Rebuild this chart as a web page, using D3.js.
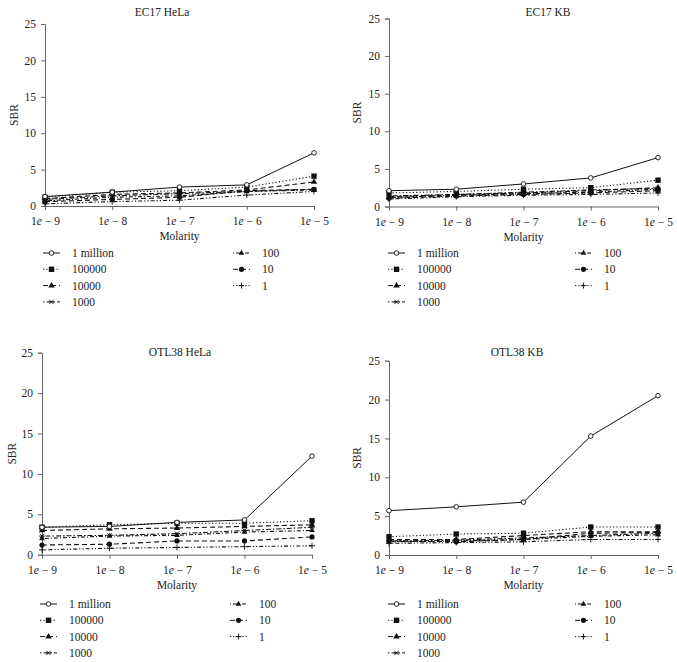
<!DOCTYPE html>
<html><head><meta charset="utf-8">
<script src="https://cdn.jsdelivr.net/npm/d3@7"></script>
<style>body{margin:0;background:#fff}svg{display:block}svg text{font-family:"Liberation Serif","Times New Roman",Tinos,"Noto Serif","DejaVu Serif",serif !important;fill:#222}</style>
</head><body>
<svg id="c" width="677" height="662" style="font-family:'Liberation Serif','Times New Roman','DejaVu Serif',serif"></svg>
<script>
const categories = ["1e-9","1e-8","1e-7","1e-6","1e-5"];
const tickExps = ["9","8","7","6","5"];
const seriesNames = ["1 million","100000","10000","1000","100","10","1"];
const yTicks = [0,5,10,15,20,25];
const titles = ["EC17 HeLa","EC17 KB","OTL38 HeLa","OTL38 KB"];

const ec17Hela = [
  [1.3,1.9,2.6,2.9,7.3],
  [1.2,1.9,2.1,2.6,4.1],
  [1.0,1.6,1.8,2.2,3.3],
  [0.9,1.4,1.7,2.0,2.3],
  [0.7,1.2,1.4,2.0,2.2],
  [0.6,0.9,1.2,2.1,2.3],
  [0.3,0.6,0.8,1.5,2.0]
];
const ec17Kb = [
  [2.1,2.3,3.0,3.8,6.5],
  [1.8,2.0,2.3,2.5,3.5],
  [1.3,1.6,1.8,2.1,2.5],
  [1.4,1.6,1.9,2.2,2.4],
  [1.2,1.5,1.7,1.9,2.3],
  [1.1,1.4,1.6,1.8,2.1],
  [1.0,1.3,1.5,1.6,1.8]
];
const otl38Hela = [
  [3.4,3.5,4.0,4.3,12.2],
  [3.4,3.7,3.9,3.9,4.2],
  [3.0,3.2,3.3,3.5,3.7],
  [2.3,2.4,2.6,3.0,3.4],
  [2.0,2.3,2.4,2.8,3.0],
  [1.2,1.3,1.7,1.7,2.2],
  [0.6,0.8,0.9,1.0,1.1]
];
const otl38Kb = [
  [5.7,6.2,6.8,15.3,20.5],
  [2.35,2.7,2.8,3.6,3.6],
  [2.0,2.0,2.5,3.0,3.0],
  [1.8,1.9,2.2,2.5,2.8],
  [1.7,1.8,2.0,2.4,2.6],
  [1.8,1.7,2.0,2.8,2.9],
  [1.5,1.6,1.7,2.0,2.0]
];
const panelValues = [ec17Hela, ec17Kb, otl38Hela, otl38Kb];

// layout
const layouts = [
  {x0:45,x1:314,y0:206,y1:24,titleX:162,titleY:16,labX:14,legY:253,legL:43,legR:233},
  {x0:389,x1:658,y0:206.5,y1:18.5,titleX:548,titleY:16,labX:357,legY:253,legL:388,legR:575},
  {x0:42,x1:312,y0:554.7,y1:352.7,titleX:180,titleY:356,labX:12,legY:604,legL:40,legR:230},
  {x0:389,x1:658,y0:555,y1:360.7,titleX:517,titleY:356,labX:357,legY:604,legL:388,legR:575}
];
const dashes = [null,"1.2,2.2","5,3","1.5,2,5,2","1,2,4,2","5,3","1.2,2,1.2,2,4,2"];
const lineCol = "#111", axisCol = "#666";
const FONT = "'Liberation Serif','Times New Roman','DejaVu Serif',serif";

const svg = d3.select("#c");

function marker(g, i, x, y){
  const c = lineCol;
  if(i===0) g.append("circle").attr("cx",x).attr("cy",y).attr("r",2.3).attr("fill","#fff").attr("stroke",c).attr("stroke-width",0.9);
  else if(i===1) g.append("rect").attr("x",x-2.7).attr("y",y-2.7).attr("width",5.4).attr("height",5.4).attr("fill",c);
  else if(i===2) g.append("path").attr("d",d3.symbol(d3.symbolTriangle,18)()).attr("transform",`translate(${x},${y})`).attr("fill",c);
  else if(i===3) g.append("path").attr("d",`M${x-2.2},${y+2.2}L${x+2.2},${y-2.2}M${x-2.2},${y-2.2}L${x+2.2},${y+2.2}M${x-2.8},${y}L${x+2.8},${y}`).attr("stroke",c).attr("stroke-width",0.9).attr("fill","none");
  else if(i===4) g.append("path").attr("d",d3.symbol(d3.symbolTriangle,14)()).attr("transform",`translate(${x},${y})`).attr("fill",c);
  else if(i===5) g.append("circle").attr("cx",x).attr("cy",y).attr("r",2.6).attr("fill",c);
  else g.append("path").attr("d",`M${x-3},${y}L${x+3},${y}M${x},${y-3}L${x},${y+3}`).attr("stroke",c).attr("stroke-width",0.9);
}

function txt(sel){ return sel.style("font-family",FONT).attr("font-size",11.5).attr("fill","#222"); }

panelValues.forEach((vals, p) => {
  const L = layouts[p];
  const g = svg.append("g");
  const x = d3.scalePoint().domain(categories).range([L.x0, L.x1]);
  const y = d3.scaleLinear().domain([0,25]).range([L.y0, L.y1]);

  // y axis
  const ya = g.append("g").attr("transform",`translate(${L.x0},0)`)
    .call(d3.axisLeft(y).tickValues(yTicks).tickSize(4).tickPadding(5));
  ya.attr("font-family",null);
  ya.select(".domain").attr("stroke",axisCol);
  ya.selectAll(".tick line").attr("stroke",axisCol);
  txt(ya.selectAll("text"));

  // x axis
  const xa = g.append("g").attr("transform",`translate(0,${L.y0})`)
    .call(d3.axisBottom(x).tickSize(4).tickSizeOuter(0).tickPadding(7).tickFormat(""));
  xa.attr("font-family",null);
  xa.select(".domain").attr("stroke",axisCol);
  xa.selectAll(".tick line").attr("stroke",axisCol);
  xa.selectAll(".tick").each(function(d,i){
    const t = txt(d3.select(this).select("text"));
    t.text(null);
    t.append("tspan").text("1");
    t.append("tspan").attr("font-style","italic").text("e");
    t.append("tspan").text(" − " + tickExps[i]);
  });

  // title
  txt(g.append("text").attr("x",L.titleX).attr("y",L.titleY).attr("text-anchor","middle")).text(titles[p]);
  // y label
  txt(g.append("text").attr("transform",`translate(${L.labX+4},${(L.y0+L.y1)/2}) rotate(-90)`).attr("text-anchor","middle")).text("SBR");
  // x label
  txt(g.append("text").attr("x",(L.x0+L.x1)/2).attr("y",L.y0+34).attr("text-anchor","middle")).text("Molarity");

  // series
  const line = d3.line().x((d,i)=>x(categories[i])).y(d=>y(d));
  for(let s = vals.length-1; s>=0; s--){
    g.append("path").datum(vals[s]).attr("d",line).attr("fill","none")
      .attr("stroke",lineCol).attr("stroke-width",s===0?1:1.1)
      .attr("stroke-dasharray",dashes[s]);
    vals[s].forEach((v,i)=>marker(g,s,x(categories[i]),y(v)));
  }

  // legend
  seriesNames.forEach((name,s)=>{
    const col = s<4?0:1;
    const row = s<4?s:s-4;
    const lx = col===0?L.legL:L.legR;
    const ly = L.legY + row*16.3;
    g.append("line").attr("x1",lx).attr("x2",lx+17).attr("y1",ly).attr("y2",ly)
      .attr("stroke",lineCol).attr("stroke-width",1).attr("stroke-dasharray",dashes[s]);
    marker(g,s,lx+8.5,ly);
    txt(g.append("text").attr("x",lx+29).attr("y",ly+4)).text(name);
  });
});
</script>
</body></html>
